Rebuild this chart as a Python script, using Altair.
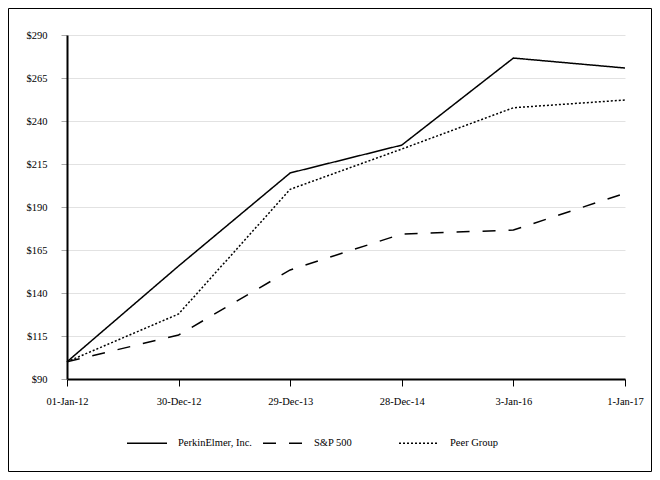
import altair as alt
import pandas as pd

dates = ["01-Jan-12", "30-Dec-12", "29-Dec-13", "28-Dec-14", "3-Jan-16", "1-Jan-17"]
series_names = ["PerkinElmer, Inc.", "S&P 500", "Peer Group"]
perkinelmer = [100, 155.7, 209.8, 226.0, 276.6, 270.8]
sp500 = [100, 115.6, 153.4, 174.3, 176.6, 198.0]
peer_group = [100, 127.8, 200.3, 223.7, 247.7, 252.2]
y_ticks = [90, 115, 140, 165, 190, 215, 240, 265, 290]

rows = []
for name, vals in zip(series_names, [perkinelmer, sp500, peer_group]):
    for d, v in zip(dates, vals):
        rows.append({"date": d, "value": v, "series": name})
df = pd.DataFrame(rows)

FONT = "Liberation Serif"
FS = 10.5

lines = alt.Chart(df).mark_line(strokeWidth=1.5, color="black").encode(
    x=alt.X("date:N", sort=dates, title=None,
            scale=alt.Scale(padding=0),
            axis=alt.Axis(labelAngle=0, grid=False, domainColor="black", domainWidth=2,
                          tickColor="black", tickSize=7, tickWidth=1,
                          labelPadding=10, labelFontSize=FS, labelFont=FONT,
                          labelColor="black")),
    y=alt.Y("value:Q", title=None,
            scale=alt.Scale(domain=[90, 290], nice=False, zero=False),
            axis=alt.Axis(values=y_ticks, labelExpr="'$' + datum.value",
                          grid=True, gridColor="#e2e2e2", gridWidth=1,
                          domainColor="black", domainWidth=2,
                          tickColor="#aaaaaa", tickSize=6, tickWidth=1,
                          labelPadding=14, labelFontSize=FS, labelFont=FONT,
                          labelColor="black")),
    strokeDash=alt.StrokeDash("series:N", sort=series_names,
                              scale=alt.Scale(domain=series_names,
                                              range=[[1, 0], [13, 13], [2, 2]]),
                              legend=alt.Legend(title=None, orient="none",
                                                legendX=59, legendY=387,
                                                direction="horizontal", columns=3,
                                                symbolType="stroke", symbolSize=1600,
                                                symbolStrokeWidth=1.5,
                                                symbolStrokeColor="black",
                                                labelFont=FONT, labelFontSize=FS,
                                                labelColor="black", labelOffset=10,
                                                columnPadding=8, gridAlign="all",
                                                padding=0)),
)

frame = alt.Chart(pd.DataFrame({"f": [0]})).mark_rect(
    fillOpacity=0, stroke="black", strokeWidth=1
).encode(
    x=alt.value(-58.5), x2=alt.value(584.5),
    y=alt.value(-26.5), y2=alt.value(436.5),
)

chart = alt.layer(lines, frame).properties(
    width=558, height=344,
    padding={"left": 59, "top": 27, "right": 27, "bottom": 93},
    autosize=alt.AutoSizeParams(type="none"),
).configure_view(stroke=None)

chart.save("out.html", embed_options={"renderer": "svg", "actions": False})
